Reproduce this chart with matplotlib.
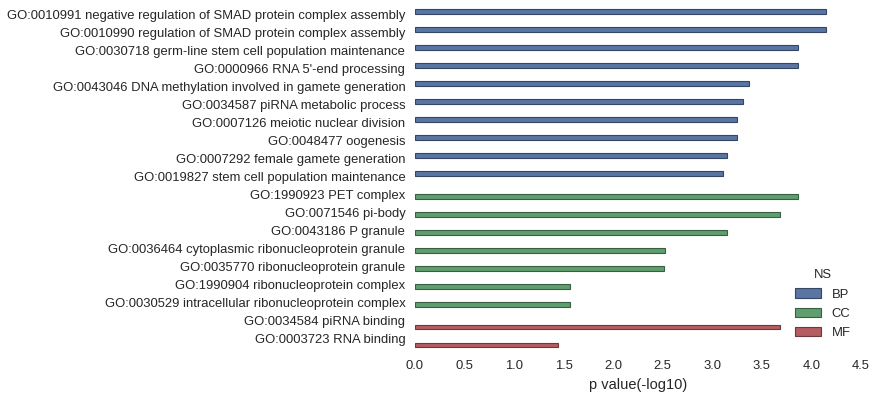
import matplotlib
matplotlib.use("Agg")
import matplotlib.pyplot as plt
import matplotlib.transforms as mtransforms
import seaborn as sns
import numpy as np

terms = [
    "GO:0010991 negative regulation of SMAD protein complex assembly",
    "GO:0010990 regulation of SMAD protein complex assembly",
    "GO:0030718 germ-line stem cell population maintenance",
    "GO:0000966 RNA 5'-end processing",
    "GO:0043046 DNA methylation involved in gamete generation",
    "GO:0034587 piRNA metabolic process",
    "GO:0007126 meiotic nuclear division",
    "GO:0048477 oogenesis",
    "GO:0007292 female gamete generation",
    "GO:0019827 stem cell population maintenance",
    "GO:1990923 PET complex",
    "GO:0071546 pi-body",
    "GO:0043186 P granule",
    "GO:0036464 cytoplasmic ribonucleoprotein granule",
    "GO:0035770 ribonucleoprotein granule",
    "GO:1990904 ribonucleoprotein complex",
    "GO:0030529 intracellular ribonucleoprotein complex",
    "GO:0034584 piRNA binding",
    "GO:0003723 RNA binding",
]
pvals = [4.15, 4.15, 3.86, 3.86, 3.37, 3.31, 3.25, 3.25, 3.15, 3.11,
         3.86, 3.68, 3.15, 2.52, 2.51, 1.56, 1.56,
         3.68, 1.44]
ns = ["BP"] * 10 + ["CC"] * 7 + ["MF"] * 2
ns_levels = ["BP", "CC", "MF"]
base_colors = ["#4C72B0", "#55A868", "#C44E52"]

sns.set_style("white")
plt.rcParams['font.family'] = ['Liberation Sans', 'DejaVu Sans']

fs = 9.4
fig = plt.figure(figsize=(8.77, 3.97), dpi=100)
ax = fig.add_axes([0.4732, 0.1202, 0.5086, 0.8614])

n_h = len(ns_levels)
w = 0.8 / n_h
y = np.arange(len(terms))
for k, lev in enumerate(ns_levels):
    col = sns.desaturate(base_colors[k], 0.75)
    idx = [i for i, s in enumerate(ns) if s == lev]
    edge = tuple(c * 0.6 for c in matplotlib.colors.to_rgb(col))
    ax.barh(y[idx] + (k - 1) * w, [pvals[i] for i in idx], height=w,
            color=col, edgecolor=edge, linewidth=0.8, label=lev)

ax.set_yticks(y)
ax.set_yticklabels(terms, fontsize=fs)
ax.set_ylim(len(terms) - 0.5, -0.5)
ax.set_xlim(0, 4.5)
ax.set_xticks(np.arange(0, 4.51, 0.5))
ax.tick_params(axis='x', labelsize=fs, length=0, pad=8)
ax.tick_params(axis='y', length=0, pad=7)
ax.set_xlabel("p value(-log10)", fontsize=10.5, labelpad=4)
for s in ax.spines.values():
    s.set_visible(False)

offset = mtransforms.ScaledTranslation(0, 1.5 / 100, fig.dpi_scale_trans)
for lab in ax.get_yticklabels():
    lab.set_transform(lab.get_transform() + offset)

leg = ax.legend(title="NS", loc="lower right", bbox_to_anchor=(1.003, -0.005),
                frameon=False, fontsize=fs, title_fontsize=fs,
                handlelength=2.0, labelspacing=0.55)

fig.savefig("out.png", dpi=100)
